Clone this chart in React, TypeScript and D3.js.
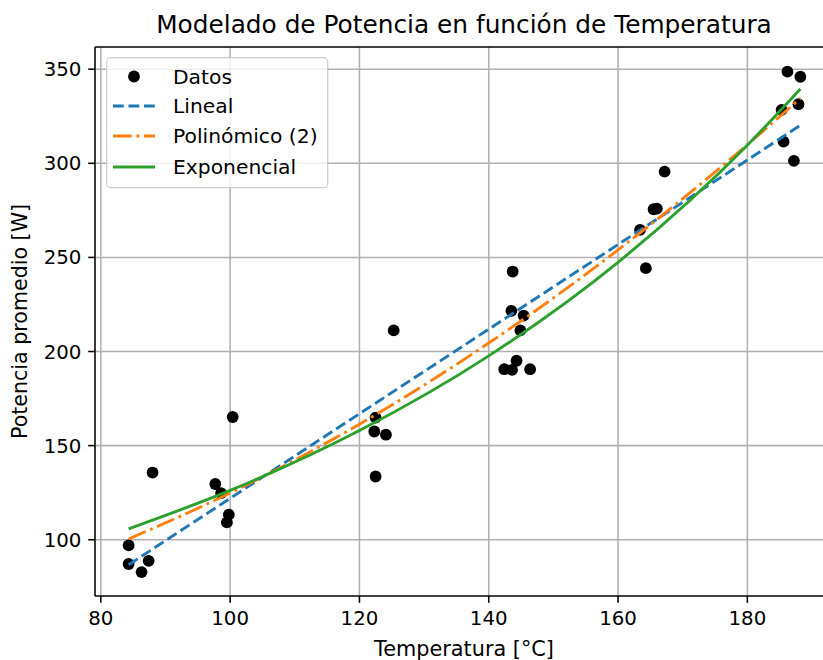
import React from 'react';
import * as d3 from 'd3';

// scatter data
const TEMP = [84.3, 84.3, 86.3, 87.4, 88.0, 97.7, 98.6, 99.8, 99.5, 100.4, 122.5, 122.3, 124.1, 122.5, 125.3, 143.7, 143.5, 145.4, 144.9, 144.3, 142.4, 143.6, 146.4, 167.2, 165.5, 166.0, 163.4, 164.3, 186.2, 188.2, 185.3, 187.9, 185.6, 187.2];
const POWER = [97.0, 87.1, 82.8, 88.8, 135.7, 129.6, 124.8, 113.3, 109.2, 165.2, 164.9, 157.5, 155.8, 133.6, 211.2, 242.5, 221.6, 219.1, 211.2, 195.1, 190.6, 190.3, 190.6, 295.6, 275.6, 275.9, 264.6, 244.3, 348.7, 346.0, 328.4, 331.4, 311.5, 301.3];

// fitted curves, read at a few temperatures
const LIN_T = [84.3, 188.2];
const LIN_P = [86.7, 320.2];
const POLY_T = [84.3, 100, 120, 140, 160, 180, 188.2];
const POLY_P = [100.4, 124.8, 161.4, 204.5, 254.0, 309.9, 334.6];
const EXP_T = [84.3, 100, 120, 140, 160, 180, 188.2];
const EXP_P = [105.8, 126.2, 158.0, 197.7, 247.4, 309.6, 339.5];

const X_TICKS = [80, 100, 120, 140, 160, 180];
const Y_TICKS = [100, 150, 200, 250, 300, 350];

const TITLE = 'Modelado de Potencia en función de Temperatura';
const X_LABEL = 'Temperatura [°C]';
const Y_LABEL = 'Potencia promedio [W]';

const W = 823;
const H = 660;
const m = { left: 95, right: 834, top: 47, bottom: 596 };
const FONT = '"DejaVu Sans", sans-serif';
const FS = 19.8;

const App: React.FC = () => {
  const x = d3.scaleLinear().domain([79.1, 193.4]).range([m.left, m.right]);
  const y = d3.scaleLinear().domain([70.1, 361.8]).range([m.bottom, m.top]);

  const line = d3.line<[number, number]>().x(d => x(d[0])).y(d => y(d[1]));
  const smooth = d3.line<[number, number]>().x(d => x(d[0])).y(d => y(d[1])).curve(d3.curveMonotoneX);

  const lin = LIN_T.map((t, i) => [t, LIN_P[i]] as [number, number]);
  const poly = POLY_T.map((t, i) => [t, POLY_P[i]] as [number, number]);
  const expo = EXP_T.map((t, i) => [t, EXP_P[i]] as [number, number]);

  const legendRows = [
    { label: 'Datos', kind: 'dot' },
    { label: 'Lineal', kind: 'lin' },
    { label: 'Polinómico (2)', kind: 'poly' },
    { label: 'Exponencial', kind: 'exp' },
  ];
  const rowY = [76.5, 106, 136, 167];

  return (
    <svg width={W} height={H} style={{ position: 'fixed', left: 0, top: 0, background: '#fff' }} fontFamily={FONT}>
      <rect width={W} height={H} fill="#fff" />

      {/* grid */}
      <g stroke="#b0b0b0" strokeWidth={1.56}>
        {X_TICKS.map(t => <line key={'gx' + t} x1={x(t)} x2={x(t)} y1={m.top} y2={m.bottom} />)}
        {Y_TICKS.map(t => <line key={'gy' + t} x1={m.left} x2={m.right} y1={y(t)} y2={y(t)} />)}
      </g>

      {/* points */}
      <g fill="#000">
        {TEMP.map((t, i) => <circle key={i} cx={x(t)} cy={y(POWER[i])} r={5.9} />)}
      </g>

      {/* fits */}
      <path d={line(lin) || ''} fill="none" stroke="#1f77b4" strokeWidth={2.9} strokeDasharray="10.8 4.7" />
      <path d={smooth(poly) || ''} fill="none" stroke="#ff7f0e" strokeWidth={2.9} strokeDasharray="18.7 4.7 2.9 4.7" />
      <path d={smooth(expo) || ''} fill="none" stroke="#2ca02c" strokeWidth={2.9} />

      {/* spines */}
      <g stroke="#000" strokeWidth={1.56} fill="none">
        <line x1={m.left} x2={m.left} y1={m.top} y2={m.bottom} />
        <line x1={m.left} x2={m.right} y1={m.bottom} y2={m.bottom} />
        <line x1={m.left} x2={m.right} y1={m.top} y2={m.top} />
        <line x1={m.right} x2={m.right} y1={m.top} y2={m.bottom} />
      </g>

      {/* x axis */}
      <g fontSize={FS} fill="#000" textAnchor="middle">
        {X_TICKS.map(t => (
          <g key={'xt' + t}>
            <line x1={x(t)} x2={x(t)} y1={m.bottom} y2={m.bottom + 6.8} stroke="#000" strokeWidth={1.56} />
            <text x={x(t)} y={m.bottom + 28.5}>{t}</text>
          </g>
        ))}
      </g>

      {/* y axis */}
      <g fontSize={FS} fill="#000" textAnchor="end">
        {Y_TICKS.map(t => (
          <g key={'yt' + t}>
            <line x1={m.left - 6.8} x2={m.left} y1={y(t)} y2={y(t)} stroke="#000" strokeWidth={1.56} />
            <text x={m.left - 13.6} y={y(t) + 7}>{t}</text>
          </g>
        ))}
      </g>

      <text x={464} y={33} fontSize={24.8} textAnchor="middle" fill="#000">{TITLE}</text>
      <text x={464} y={656} fontSize={20.8} textAnchor="middle" fill="#000">{X_LABEL}</text>
      <text transform={`translate(27,${(m.top + m.bottom) / 2}) rotate(-90)`} fontSize={20.6} textAnchor="middle" fill="#000">{Y_LABEL}</text>

      {/* legend */}
      <rect x={106.7} y={57.7} width={221} height={130} rx={4} fill="#fff" fillOpacity={0.8} stroke="#cccccc" strokeWidth={1.2} />
      {legendRows.map((r, i) => (
        <g key={r.label}>
          {r.kind === 'dot' && <circle cx={134} cy={rowY[i]} r={5.9} fill="#000" />}
          {r.kind === 'lin' && <line x1={113} x2={155} y1={rowY[i]} y2={rowY[i]} stroke="#1f77b4" strokeWidth={2.9} strokeDasharray="10.8 4.7" />}
          {r.kind === 'poly' && <line x1={113} x2={155} y1={rowY[i]} y2={rowY[i]} stroke="#ff7f0e" strokeWidth={2.9} strokeDasharray="18.7 4.7 2.9 4.7" />}
          {r.kind === 'exp' && <line x1={113} x2={155} y1={rowY[i]} y2={rowY[i]} stroke="#2ca02c" strokeWidth={2.9} />}
          <text x={173} y={rowY[i] + 7} fontSize={20.3} fill="#000">{r.label}</text>
        </g>
      ))}
    </svg>
  );
};

export default App;
